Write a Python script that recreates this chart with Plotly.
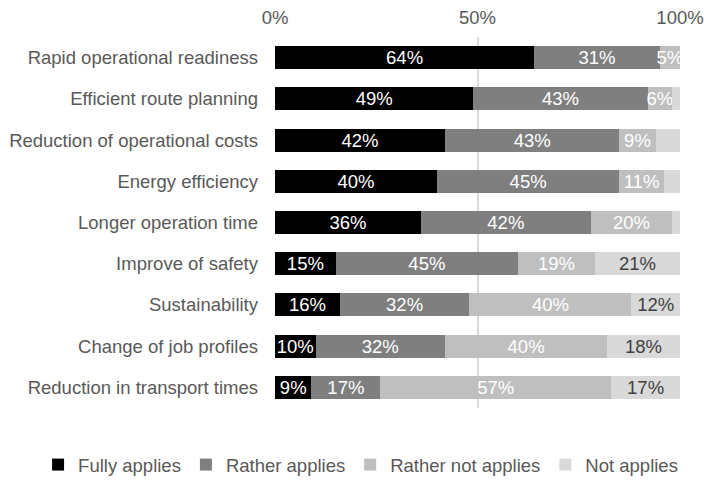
import plotly.graph_objects as go

categories = ["Rapid operational readiness", "Efficient route planning",
              "Reduction of operational costs", "Energy efficiency",
              "Longer operation time", "Improve of safety", "Sustainability",
              "Change of job profiles", "Reduction in transport times"]
fully = [64, 49, 42, 40, 36, 15, 16, 10, 9]
rather = [31, 43, 43, 45, 42, 45, 32, 32, 17]
rather_not = [5, 6, 9, 11, 20, 19, 40, 40, 57]
not_applies = [0, 2, 6, 4, 2, 21, 12, 18, 17]

series = [
    ("Fully applies", fully, "#000000", "#ffffff", 5),
    ("Rather applies", rather, "#7f7f7f", "#ffffff", 5),
    ("Rather not applies", rather_not, "#bfbfbf", "#ffffff", 5),
    ("Not applies", not_applies, "#d9d9d9", "#404040", 10),
]

FONT = "Liberation Sans, Arial"
FS = 18.5
fig = go.Figure()
for name, vals, color, tcolor, minlab in series:
    fig.add_trace(go.Bar(
        y=categories, x=[v / 100 for v in vals], name=name, orientation="h",
        marker=dict(color=color, line=dict(width=0)),
        text=[f"{v}%" if v >= minlab else "" for v in vals],
        textposition="inside", insidetextanchor="middle", textangle=0,
        textfont=dict(color=tcolor, size=FS, family=FONT),
        width=0.56, hoverinfo="skip",
    ))

fig.update_layout(
    barmode="stack", width=704, height=484,
    margin=dict(l=275, r=24, t=37, b=76, autoexpand=False),
    paper_bgcolor="white", plot_bgcolor="white",
    font=dict(family=FONT, size=FS, color="#595959"),
    uniformtext=dict(minsize=17, mode="show"),
    showlegend=True,
    legend=dict(orientation="h", xref="paper", x=-0.585, xanchor="left",
                yref="paper", y=-0.205, yanchor="bottom",
                font=dict(size=FS, color="#595959"), itemwidth=30,
                traceorder="normal", tracegroupgap=0),
    xaxis=dict(side="top", range=[0, 1.0], tickvals=[0, 0.5, 1.0],
               ticktext=["0%", "50%", "100%"], showgrid=True,
               gridcolor="#d9d9d9", gridwidth=2, zeroline=False,
               showline=False, ticks="", ticklabelstandoff=8, automargin=False,
               tickfont=dict(size=FS, color="#595959")),
    yaxis=dict(autorange="reversed", showgrid=False, showline=False,
               ticks="", ticklabelstandoff=16, automargin=False,
               tickfont=dict(size=FS, color="#595959")),
)

fig.write_html("out.html", config={"displayModeBar": False},
               post_script="document.body.style.margin='0';")
